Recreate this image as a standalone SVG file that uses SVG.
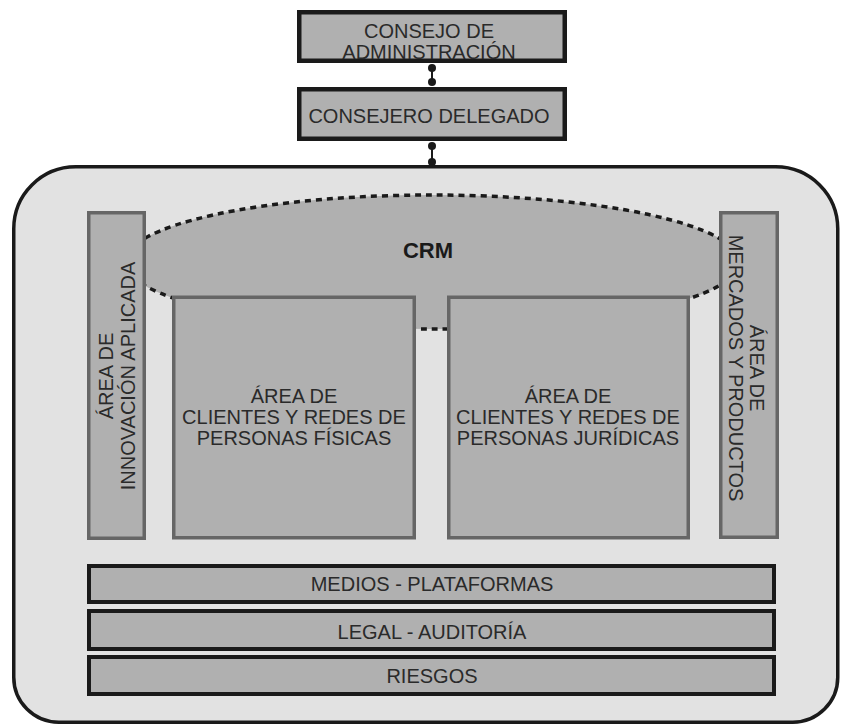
<svg xmlns="http://www.w3.org/2000/svg" width="841" height="726" viewBox="0 0 841 726">
<style>
.t{font-family:"Liberation Sans",Arial,sans-serif;font-size:20px;fill:#2a2a2a;text-anchor:middle}
.b{font-weight:bold;fill:#1a1a1a}
.top{fill:#b0b0b0;stroke:#1a1a1a;stroke-width:4.5}
.bar{fill:#b0b0b0;stroke:#1a1a1a;stroke-width:4}
.g{fill:#b0b0b0;stroke:#666;stroke-width:3.5}
.dot{fill:#1a1a1a}
</style>
<rect width="841" height="726" fill="#fff"/>
<g id="container">
<path d="M75.75,166.75 H775.75 A62,62 0 0 1 837.75,228.75 V677.25 A45,45 0 0 1 792.75,722.25 H58.75 A45,45 0 0 1 13.75,677.25 V228.75 A62,62 0 0 1 75.75,166.75 Z" fill="#e2e2e2" stroke="#1a1a1a" stroke-width="3.5"/>
</g>
<g id="crm">
<ellipse cx="432" cy="262" rx="307" ry="67" fill="#b0b0b0" stroke="#1a1a1a" stroke-width="3.5" stroke-dasharray="6 5"/>
<text class="t b" x="428" y="258" font-size="22" style="font-size:22px">CRM</text>
</g>
<g id="connectors">
<line x1="432" y1="68" x2="432" y2="82" stroke="#1a1a1a" stroke-width="2"/>
<circle class="dot" cx="432" cy="68" r="4"/>
<circle class="dot" cx="432" cy="82" r="4"/>
<line x1="432" y1="146" x2="432" y2="162" stroke="#1a1a1a" stroke-width="2"/>
<circle class="dot" cx="432" cy="146" r="4"/>
<circle class="dot" cx="432" cy="162" r="4"/>
</g>
<g id="consejo-administracion">
<rect class="top" x="299.25" y="12.25" width="265.5" height="48.5"/>
<text class="t" x="429" y="37.5">CONSEJO DE</text>
<text class="t" x="429" y="59">ADMINISTRACIÓN</text>
</g>
<g id="consejero-delegado">
<rect class="top" x="299.25" y="89.25" width="265.5" height="49.5"/>
<text class="t" x="429" y="123">CONSEJERO DELEGADO</text>
</g>
<g id="innovacion">
<rect class="g" x="88.75" y="212.75" width="55.5" height="325.5"/>
<text class="t" transform="translate(113,376) rotate(-90)" x="0" y="0">ÁREA DE</text>
<text class="t" transform="translate(134.5,376) rotate(-90)" x="0" y="0">INNOVACIÓN APLICADA</text>
</g>
<g id="personas-fisicas">
<rect class="g" x="173.75" y="297.25" width="240.5" height="240.5"/>
<text class="t" x="294" y="403">ÁREA DE</text>
<text class="t" x="294" y="424">CLIENTES Y REDES DE</text>
<text class="t" x="294" y="444.5">PERSONAS FÍSICAS</text>
</g>
<g id="personas-juridicas">
<rect class="g" x="448.75" y="297.25" width="239.5" height="240.5"/>
<text class="t" x="568" y="403">ÁREA DE</text>
<text class="t" x="568" y="424">CLIENTES Y REDES DE</text>
<text class="t" x="568" y="444.5">PERSONAS JURÍDICAS</text>
</g>
<g id="mercados">
<rect class="g" x="720.75" y="212.75" width="56.5" height="324.5"/>
<text class="t" transform="translate(750,368) rotate(90)" x="0" y="0">ÁREA DE</text>
<text class="t" transform="translate(729,368) rotate(90)" x="0" y="0">MERCADOS Y PRODUCTOS</text>
</g>
<g id="medios">
<rect class="bar" x="89" y="566" width="685" height="36"/>
<text class="t" x="432" y="591">MEDIOS - PLATAFORMAS</text>
</g>
<g id="legal">
<rect class="bar" x="89" y="611" width="685" height="38"/>
<text class="t" x="432" y="639">LEGAL - AUDITORÍA</text>
</g>
<g id="riesgos">
<rect class="bar" x="89" y="657" width="685" height="37"/>
<text class="t" x="432" y="683">RIESGOS</text>
</g>
</svg>
